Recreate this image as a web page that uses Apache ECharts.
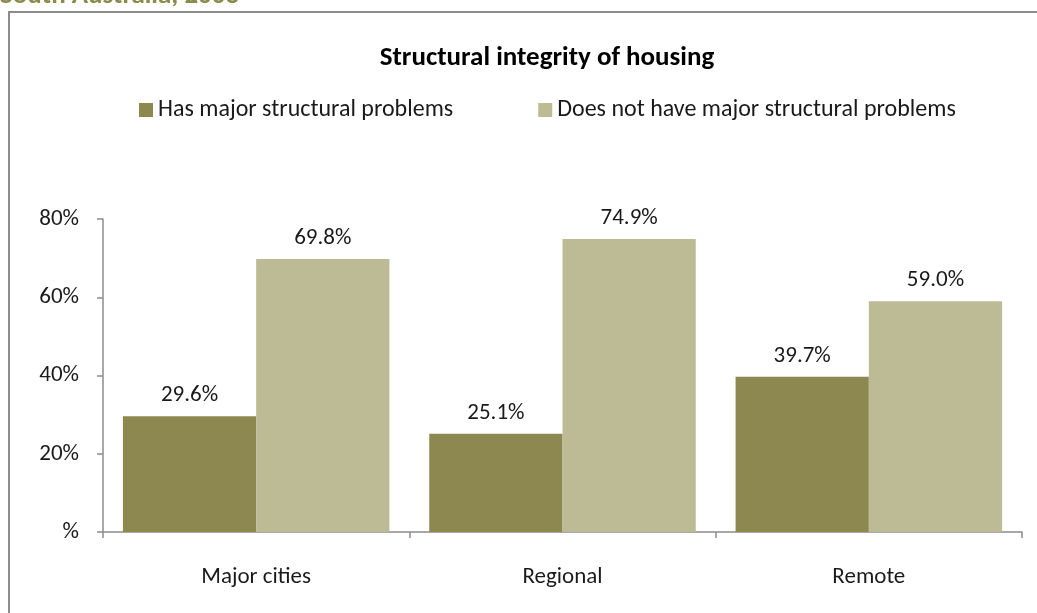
<!DOCTYPE html>
<html>
<head>
<meta charset="utf-8">
<script src="https://cdn.jsdelivr.net/npm/echarts@6/dist/echarts.min.js"></script>
<style>
  html, body { margin: 0; padding: 0; background: #ffffff; }
  #chart { width: 1037px; height: 613px; }
</style>
</head>
<body>
<div id="chart"></div>
<script>
// Housing condition by remoteness, South Australia 2008 (per cent)
const categories = ['Major cities', 'Regional', 'Remote'];
const hasProblems = [29.6, 25.1, 39.7];
const noProblems = [69.8, 74.9, 59.0];
const seriesNames = ['Has major structural problems', 'Does not have major structural problems'];
const yTicks = [0, 20, 40, 60, 80];

const FONT = 'Carlito, Lato, "Open Sans", sans-serif';
const chart = echarts.init(document.getElementById('chart'), null, { renderer: 'canvas' });

const labelStyle = {
  show: true,
  position: 'top',
  distance: 9,
  fontFamily: FONT,
  fontSize: 23,
  color: '#1a1a1a',
  formatter: p => p.value.toFixed(1) + '%'
};

chart.setOption({
  animation: false,
  backgroundColor: '#ffffff',
  textStyle: { fontFamily: FONT },
  graphic: [
    {
      type: 'rect',
      shape: { x: 9, y: 12, width: 1060, height: 640 },
      style: { fill: 'none', stroke: '#8c8c8c', lineWidth: 2 },
      silent: true
    },
    {
      type: 'text',
      left: 0,
      top: -17,
      style: {
        text: 'South Australia, 2008',
        fontFamily: FONT,
        fontSize: 27,
        fontWeight: 'bold',
        fill: '#8b8b4b'
      }
    }
  ],
  title: {
    text: 'Structural integrity of housing',
    left: 542,
    top: 40,
    textAlign: 'center',
    textStyle: { fontFamily: FONT, fontSize: 27, fontWeight: 'bold', color: '#000000' }
  },
  legend: {
    top: 93,
    left: 134,
    itemWidth: 14,
    itemHeight: 14,
    itemGap: 85,
    icon: 'rect',
    textStyle: { fontFamily: FONT, fontSize: 24, color: '#1a1a1a' },
    data: seriesNames
  },
  grid: { left: 103, right: 15, top: 219, bottom: 81, containLabel: false },
  xAxis: {
    type: 'category',
    data: categories,
    axisLine: { lineStyle: { color: '#8c8c8c', width: 1.5 } },
    axisTick: { show: true, length: 6, alignWithLabel: false, lineStyle: { color: '#8c8c8c', width: 1.5 } },
    axisLabel: { fontFamily: FONT, fontSize: 23, color: '#1a1a1a', margin: 34 }
  },
  yAxis: {
    type: 'value',
    min: yTicks[0],
    max: yTicks[yTicks.length - 1],
    interval: 20,
    splitLine: { show: false },
    axisLine: { show: true, lineStyle: { color: '#8c8c8c', width: 1.5 } },
    axisTick: { show: true, length: 6, lineStyle: { color: '#8c8c8c', width: 1.5 } },
    axisLabel: {
      fontFamily: FONT, fontSize: 23, color: '#1a1a1a', margin: 24,
      formatter: v => (v === 0 ? '%' : v + '%')
    }
  },
  series: [
    {
      name: seriesNames[0],
      type: 'bar',
      data: hasProblems,
      barGap: '0%',
      barCategoryGap: '13%',
      itemStyle: { color: '#8c8850' },
      label: labelStyle
    },
    {
      name: seriesNames[1],
      type: 'bar',
      data: noProblems,
      barGap: '0%',
      barCategoryGap: '13%',
      itemStyle: { color: '#bdba96' },
      label: labelStyle
    }
  ]
});
</script>
</body>
</html>
